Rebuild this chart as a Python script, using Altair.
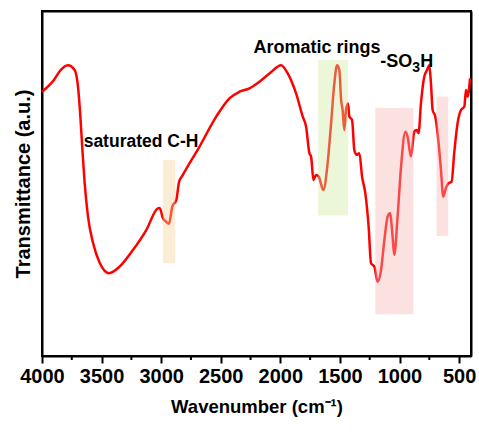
import altair as alt
import pandas as pd

# Spectrum (wavenumber cm-1, transmittance a.u.)
wavenumber = [4000, 3900, 3850, 3782, 3726, 3698, 3678, 3661, 3642, 3614, 3572, 3516,
              3438, 3349, 3237, 3125, 3028, 3013, 2986, 2957, 2935, 2907, 2873, 2850,
              2818, 2678, 2538, 2427, 2343, 2259, 2175, 2091, 1993, 1938, 1868, 1812,
              1784, 1756, 1742, 1722, 1700, 1678, 1639, 1603, 1574, 1547, 1524, 1505,
              1490, 1477, 1463, 1449, 1432, 1421, 1398, 1379, 1360, 1337, 1314, 1287,
              1259, 1239, 1211, 1184, 1155, 1127, 1100, 1080, 1058, 1044, 1016, 987,
              951, 932, 904, 876, 857, 840, 820, 792, 769, 750, 736, 722, 700, 672,
              652, 633, 610, 588, 563, 541, 513, 484, 456, 442, 428, 408]
transmittance = [76.6, 80.0, 82.6, 84.3, 82.9, 78.1, 69.4, 59.7, 50.1, 40.4, 32.8, 27.0,
                 24.0, 25.9, 30.7, 36.5, 42.8, 42.9, 40.0, 38.9, 38.3, 43.3, 45.2, 50.4,
                 52.5, 60.7, 69.4, 74.7, 76.6, 77.6, 79.5, 81.9, 84.3, 81.9, 76.1, 69.4,
                 66.5, 58.8, 57.8, 51.0, 52.5, 52.0, 48.1, 55.9, 67.4, 79.0, 84.3, 82.9,
                 74.2, 71.3, 65.5, 71.3, 73.2, 69.4, 68.4, 59.7, 58.3, 58.8, 52.0, 47.2,
                 37.5, 26.9, 25.9, 21.5, 24.9, 33.6, 40.4, 41.4, 34.6, 29.3, 40.4, 54.9,
                 65.0, 63.6, 57.8, 65.0, 65.5, 64.6, 73.2, 81.0, 82.9, 84.3, 79.0, 71.3,
                 69.4, 61.7, 53.9, 46.2, 48.8, 50.1, 50.5, 58.8, 67.4, 71.3, 72.3, 77.1,
                 75.2, 80.5]

# Highlighted bands
band_name = ["ch", "arom", "so3h_a", "so3h_b"]
band_x1 = [2986, 1683, 1203, 689]
band_x2 = [2882, 1432, 884, 591]
band_y1 = [26.9, 40.7, 12.1, 34.8]
band_y2 = [56.8, 85.8, 71.9, 75.2]
band_color = ["#F4D197", "#CFE89E", "#F7B4B4", "#F7B4B4"]

# Annotations
ann_text = ["saturated C-H", "Aromatic rings"]
ann_x = [3169, 1693]
ann_y = [62.0, 89.3]
ann_size = [17.5, 18]

so3h_x = [893]
so3h_y = [85.2]

major_ticks = [4000, 3500, 3000, 2500, 2000, 1500, 1000, 500]
minor_ticks = [3750, 3250, 2750, 2250, 1750, 1250, 750]

x_lo, x_hi = 400, 4000
y_lo, y_hi = 0, 100

W, H = 429, 345
FONT = "Liberation Sans"

spec = pd.DataFrame({"wn": wavenumber, "t": transmittance})
bands = pd.DataFrame({"name": band_name, "x1": band_x1, "x2": band_x2,
                      "y1": band_y1, "y2": band_y2, "color": band_color})
ann = pd.DataFrame({"text": ann_text, "x": ann_x, "y": ann_y, "size": ann_size})
so3h = pd.DataFrame({"x": so3h_x, "y": so3h_y})
minor = pd.DataFrame({"wn": minor_ticks})
corners = pd.DataFrame({"wn": [x_hi, x_lo], "t": [y_hi, y_lo]})

xscale = alt.Scale(domain=[x_lo, x_hi], reverse=True, nice=False, zero=False)
yscale = alt.Scale(domain=[y_lo, y_hi], nice=False, zero=False)

xaxis = alt.Axis(orient="bottom", values=major_ticks, title="Wavenumber (cm⁻¹)", format="d",
                 tickSize=7, tickWidth=2, tickColor="black",
                 labelPadding=3, titlePadding=11,
                 labelFontSize=20, titleFontSize=18.5,
                 labelFont=FONT, titleFont=FONT,
                 labelFontWeight="bold", titleFontWeight="bold",
                 labelColor="black", titleColor="black",
                 labelOverlap=False, labelFlush=False,
                 domainColor="black", domainWidth=2, grid=False)
yaxis = alt.Axis(orient="left", title="Transmittance (a.u.)", labels=False, ticks=False,
                 titleFontSize=20, titleFont=FONT, titleFontWeight="bold",
                 titleColor="black", titlePadding=9,
                 domainColor="black", domainWidth=2, grid=False)

line = alt.Chart(spec).mark_line(color="#FF0000", strokeWidth=2.5, interpolate="monotone").encode(
    x=alt.X("wn:Q", scale=xscale, axis=xaxis),
    y=alt.Y("t:Q", scale=yscale, axis=yaxis),
)

# invisible layer carrying the top and right frame axes
frame_axes = alt.Chart(corners).mark_point(opacity=0).encode(
    x=alt.X("wn:Q", scale=xscale,
            axis=alt.Axis(orient="top", labels=False, ticks=False, title="",
                          domainColor="black", domainWidth=2, grid=False)),
    y=alt.Y("t:Q", scale=yscale,
            axis=alt.Axis(orient="right", labels=False, ticks=False, title="",
                          domainColor="black", domainWidth=2, grid=False)),
)

rects = alt.Chart(bands).mark_rect(opacity=0.4).encode(
    x=alt.X("x1:Q", axis=None), x2="x2:Q",
    y=alt.Y("y1:Q", axis=None), y2="y2:Q",
    color=alt.Color("color:N", scale=None, legend=None),
)

texts = alt.Chart(ann).mark_text(font=FONT, fontWeight="bold", color="black",
                                 align="center", baseline="middle").encode(
    x=alt.X("x:Q", axis=None), y=alt.Y("y:Q", axis=None), text="text:N",
    size=alt.Size("size:Q", scale=None, legend=None),
)

so_txt = alt.Chart(so3h).mark_text(text="-SO", font=FONT, fontWeight="bold", fontSize=18,
                                   color="black", align="right", baseline="middle").encode(
    x=alt.X("x:Q", axis=None), y=alt.Y("y:Q", axis=None))
sub_txt = alt.Chart(so3h).mark_text(text="3", font=FONT, fontWeight="bold", fontSize=14,
                                    color="black", align="left", baseline="middle", dy=6, dx=0).encode(
    x=alt.X("x:Q", axis=None), y=alt.Y("y:Q", axis=None))
h_txt = alt.Chart(so3h).mark_text(text="H", font=FONT, fontWeight="bold", fontSize=18,
                                  color="black", align="left", baseline="middle", dx=8).encode(
    x=alt.X("x:Q", axis=None), y=alt.Y("y:Q", axis=None))

minor_tick = alt.Chart(minor).mark_rule(color="black", strokeWidth=2).encode(
    x=alt.X("wn:Q", axis=None), y=alt.value(H), y2=alt.value(H + 4))

chart = alt.layer(line, frame_axes, rects, texts, so_txt, sub_txt, h_txt, minor_tick).resolve_axis(
    x="independent", y="independent"
).properties(
    width=W, height=H,
    padding={"left": 42, "top": 11, "right": 8, "bottom": 76},
    autosize=alt.AutoSizeParams(type="none"),
).configure_view(stroke="black", strokeWidth=2)

chart.save("out.html", embed_options={"renderer": "svg", "actions": False})
